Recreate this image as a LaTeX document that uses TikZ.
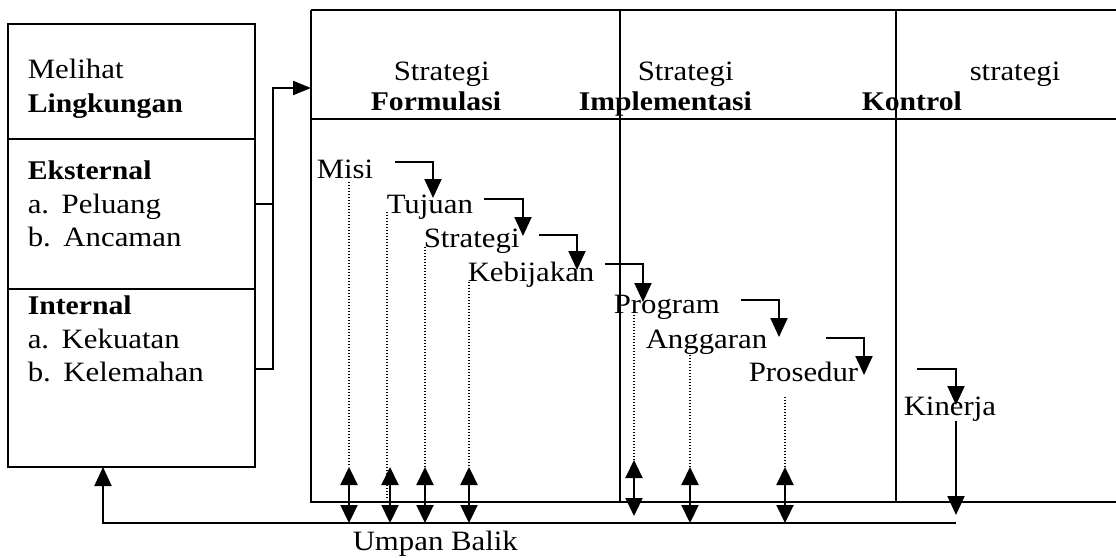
\documentclass[tikz,border=0pt]{standalone}
\usepackage{fontspec}
\setmainfont{Liberation Serif}[FakeStretch=1.1]
\usetikzlibrary{arrows.meta}
\begin{document}
\begin{tikzpicture}[x=1pt,y=-1pt,line width=1.5pt,
  txt/.style={inner sep=0pt,anchor=base west,font=\fontsize{28}{32}\selectfont},
  bld/.style={inner sep=0pt,anchor=base west,font=\fontsize{27}{32}\selectfont\bfseries},
  tip/.style={line width=2pt,-{Triangle[length=19pt,width=17pt]}},
  dbl/.style={line width=2.2pt,{Triangle[length=18pt,width=17pt]}-{Triangle[length=18pt,width=17pt]}},
  dotline/.style={line width=1.4pt,dash pattern=on 1.4pt off 1.6pt}]
\useasboundingbox (0,0) rectangle (1116,557);
% left box
\draw (8,24) rectangle (255,467);
\draw (8,139) -- (255,139);
\draw (8,289) -- (255,289);
\node[txt] (melihat) at (27,78) {Melihat};
\node[bld] (lingk) at (27,112) {Lingkungan};
\node[bld] (eks) at (27,179) {Eksternal};
\node[txt] (pel) at (27,213) {a.\hspace{0.45em}Peluang};
\node[txt] (anc) at (27,246) {b.\hspace{0.45em}Ancaman};
\node[bld] (int) at (27,314) {Internal};
\node[txt] (kek) at (27,348) {a.\hspace{0.45em}Kekuatan};
\node[txt] (kel) at (27,381) {b.\hspace{0.45em}Kelemahan};
% big box
\draw[line width=2pt] (311,10) -- (1116,10);
\draw (311,10) -- (311,502) -- (1116,502);
\draw (311,119) -- (1116,119);
\draw (620,10) -- (620,502);
\draw (896,10) -- (896,502);
\node[txt] (s1) at (393,80) {Strategi};
\node[bld] (form) at (370,110) {Formulasi};
\node[txt] (s2) at (637,80) {Strategi};
\node[bld] (impl) at (578,110) {Implementasi};
\node[txt] (s3) at (969,80) {strategi};
\node[bld] (kont) at (861,110) {Kontrol};
% bracket from left box
\draw (255,204) -- (273,204);
\draw[tip,-{Triangle[length=18pt,width=14pt]}] (255,369) -- (273,369) -- (273,88) -- (311,88);
% steps
\node[txt] (misi) at (316,178) {Misi};
\node[txt] (tuj) at (386,213) {Tujuan};
\node[txt] (str) at (423,247) {Strategi};
\node[txt] (keb) at (467,281) {Kebijakan};
\node[txt] (prog) at (613,313) {Program};
\node[txt] (ang) at (645,348) {Anggaran};
\node[txt] (pros) at (748,381) {Prosedur};
\node[txt] (kin) at (903,415) {Kinerja};
\draw[tip] (395,162) -- (433,162) -- (433,198);
\draw[tip] (484,199) -- (523,199) -- (523,236);
\draw[tip] (539,235) -- (577,235) -- (577,270);
\draw[tip] (605,264) -- (643,264) -- (643,302);
\draw[tip] (741,300) -- (779,300) -- (779,337);
\draw[tip] (826,338) -- (864,338) -- (864,375);
\draw[tip] (917,369) -- (956,369) -- (956,405);
\draw[tip] (956,421) -- (956,515);
% dotted lines
\draw[dotline] (349,182) -- (349,467);
\draw[dotline] (387,212) -- (387,500);
\draw[dotline] (425,247) -- (425,467);
\draw[dotline] (469,282) -- (469,467);
\draw[dotline] (634,315) -- (634,460);
\draw[dotline] (690,355) -- (690,467);
\draw[dotline] (785,397) -- (785,467);
% double arrows
\draw[dbl] (349,467) -- (349,523);
\draw[dbl] (390,467) -- (390,523);
\draw[dbl] (425,467) -- (425,523);
\draw[dbl] (469,467) -- (469,523);
\draw[dbl] (634,460) -- (634,516);
\draw[dbl] (690,467) -- (690,523);
\draw[dbl] (785,467) -- (785,523);
% feedback
\draw[tip] (956,523) -- (103,523) -- (103,467);
\node[txt] (umpan) at (352,550) {Umpan Balik};
\end{tikzpicture}
\end{document}
